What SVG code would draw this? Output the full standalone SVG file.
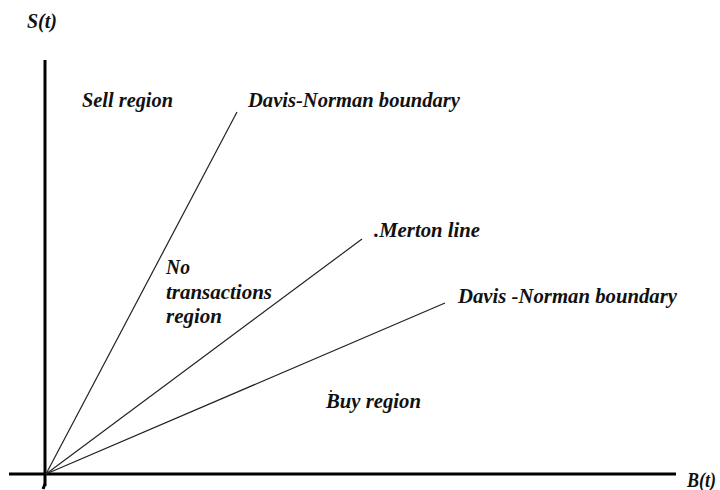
<svg xmlns="http://www.w3.org/2000/svg" width="720" height="490" viewBox="0 0 720 490">
<style>
text{font-family:"Liberation Serif","Times New Roman",serif;font-weight:bold;font-style:italic;font-size:20px;fill:#111}
.axis{stroke:#000;stroke-width:3;fill:none}
.ray{stroke:#222;stroke-width:1.2;fill:none}
</style>
<rect width="720" height="490" fill="#fff"/>
<g id="connectors">
<line class="axis" x1="45" y1="60" x2="45" y2="486"/>
<path class="axis" d="M45 484 L43 489" stroke-width="2"/>
<line class="axis" x1="9" y1="474" x2="676" y2="474"/>
<line class="ray" x1="46" y1="474" x2="237" y2="112"/>
<line class="ray" x1="46" y1="474" x2="362" y2="239"/>
<line class="ray" x1="46" y1="474" x2="445" y2="303"/>
</g>
<g id="axis-s"><text x="27" y="28" textLength="30" lengthAdjust="spacingAndGlyphs">S(t)</text></g>
<g id="axis-b"><text x="687" y="487" textLength="29" lengthAdjust="spacingAndGlyphs">B(t)</text></g>
<g id="sell-region"><text x="82" y="107" textLength="91" lengthAdjust="spacingAndGlyphs">Sell region</text></g>
<g id="dn-upper"><text x="248" y="107" textLength="212" lengthAdjust="spacingAndGlyphs">Davis-Norman boundary</text></g>
<g id="merton"><text x="374" y="237" textLength="106" lengthAdjust="spacingAndGlyphs">.Merton line</text></g>
<g id="no-trans">
<text x="166" y="274" textLength="24" lengthAdjust="spacingAndGlyphs">No</text>
<text x="166" y="299" textLength="106" lengthAdjust="spacingAndGlyphs">transactions</text>
<text x="166" y="323" textLength="56" lengthAdjust="spacingAndGlyphs">region</text>
</g>
<g id="dn-lower"><text x="458" y="303" textLength="219" lengthAdjust="spacingAndGlyphs">Davis -Norman boundary</text></g>
<g id="buy-region">
<circle cx="331" cy="391" r="1" fill="#111"/>
<text x="326" y="408" textLength="95" lengthAdjust="spacingAndGlyphs">Buy region</text>
</g>
</svg>
